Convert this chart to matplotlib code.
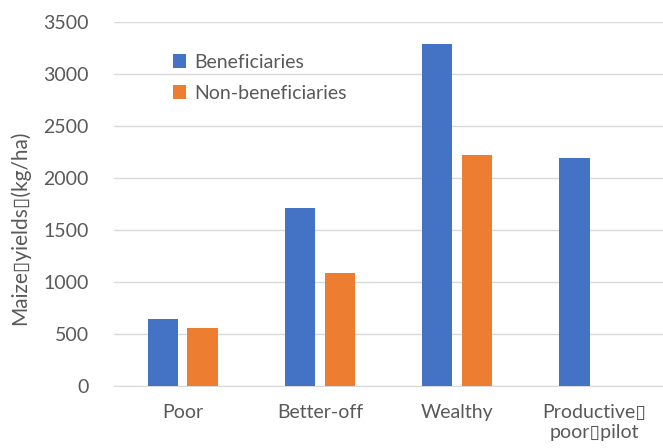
import matplotlib.pyplot as plt
import numpy as np

plt.rcParams['font.family'] = ['Lato', 'DejaVu Sans']

# data
categories = ["Poor", "Better-off", "Wealthy", "Productive\u25af\npoor\u25afpilot"]
beneficiaries = [644, 1711, 3288, 2192]
non_beneficiaries = [558, 1087, 2221, np.nan]

blue = '#4472c4'
orange = '#ed7d31'
text_col = '#595959'

x = np.arange(len(categories))
bar_width = 0.22
off = 0.145

fig = plt.figure(figsize=(6.63, 4.48), dpi=100)
ax = fig.add_axes([114 / 663, 62 / 448, 549 / 663, 364 / 448])

ax.bar(x - off, beneficiaries, bar_width, color=blue, label='Beneficiaries', zorder=3)
ax.bar(x + off, non_beneficiaries, bar_width, color=orange, label='Non-beneficiaries', zorder=3)

ax.set_xlim(-0.5, len(categories) - 0.5)
ax.set_ylim(0, 3500)
ax.set_yticks(np.arange(0, 3501, 500))
ax.set_xticks(x)
ax.set_xticklabels(categories)
ax.grid(axis='y', color='#d9d9d9', linewidth=1, zorder=0)
for s in ['top', 'right', 'left']:
    ax.spines[s].set_visible(False)
ax.spines['bottom'].set_color('#d9d9d9')
ax.tick_params(axis='both', length=0, labelsize=14, colors=text_col)
ax.tick_params(axis='x', pad=13)
ax.tick_params(axis='y', pad=18)

fig.text(20 / 663, 1 - 228 / 448, 'Maize\u25afyields\u25af(kg/ha)', rotation=90,
         ha='center', va='center', fontsize=15, color=text_col)

leg = ax.legend(loc='upper left', bbox_to_anchor=(155 / 663, 1 - 36 / 448),
                bbox_transform=fig.transFigure, frameon=False, fontsize=14,
                handlelength=0.7, handleheight=0.7, handletextpad=0.4,
                labelspacing=0.75)
for t in leg.get_texts():
    t.set_color(text_col)

fig.savefig('out.png', dpi=100)
